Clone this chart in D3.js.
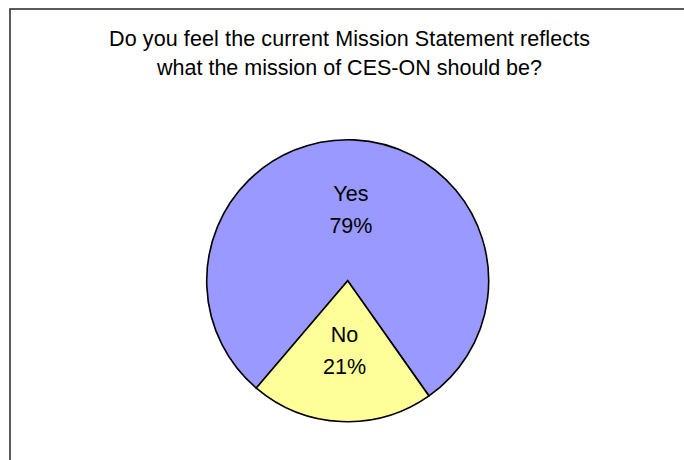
<!DOCTYPE html>
<html>
<head>
<meta charset="utf-8">
<script src="https://d3js.org/d3.v7.min.js"></script>
<style>
  body { margin: 0; background: #fff; }
  svg { display: block; }
  text { font-family: "Liberation Sans", Arial, sans-serif; fill: #000; }
</style>
</head>
<body>
<div id="chart"></div>
<script>
// chart data
const categories = ["Yes", "No"];
const percents = [79, 21];
const colours = ["#9999FF", "#FFFF99"];
const titleLines = [
    "Do you feel the current Mission Statement reflects",
    "what the mission of CES-ON should be?"
];
// measured widths of the two title lines in the reference
const titleWidths = [481, 385];

var width = 684, height = 460;

var svg = d3.select("#chart")
    .append("svg")
    .attr("width", width)
    .attr("height", height);

// outer chart frame (runs off the right and bottom of the picture)
svg.append("rect")
    .attr("x", 10)
    .attr("y", 9)
    .attr("width", 679)
    .attr("height", 470)
    .attr("fill", "#fff")
    .attr("stroke", "#333")
    .attr("stroke-width", 1.6);

var cx = 349.5;

svg.append("g")
    .selectAll("text")
    .data(titleLines)
    .enter()
    .append("text")
    .attr("x", cx)
    .attr("y", function(d, i) { return 46 + i * 28.5; })
    .attr("text-anchor", "middle")
    .attr("textLength", function(d, i) { return titleWidths[i]; })
    .attr("lengthAdjust", "spacing")
    .style("font-size", "21.5px")
    .text(function(d) { return d; });

var radius = 141;
var pieData = categories.map(function(c, i) {
    return { name: c, value: percents[i], colour: colours[i] };
});

// Excel first-slice angle: Yes starts at about 220 deg clockwise from 12 o'clock
var startAngle = 220.4 * Math.PI / 180;
var pie = d3.pie()
    .sort(null)
    .value(function(d) { return d.value; })
    .startAngle(startAngle)
    .endAngle(startAngle + 2 * Math.PI);

var arc = d3.arc()
    .innerRadius(0)
    .outerRadius(radius);

var pieG = svg.append("g")
    .attr("transform", "translate(347.7,280.7)");

var slices = pie(pieData);

pieG.selectAll("path")
    .data(slices)
    .enter()
    .append("path")
    .attr("d", arc)
    .attr("fill", function(d) { return d.data.colour; })
    .attr("stroke", "#000")
    .attr("stroke-width", 1.6)
    .attr("stroke-linejoin", "miter");

var labels = pieG.selectAll("g.label")
    .data(slices)
    .enter()
    .append("g")
    .attr("class", "label")
    .attr("transform", function(d) {
        var c = arc.centroid(d);
        return "translate(" + c[0] + "," + c[1] + ")";
    });

labels.append("text")
    .attr("text-anchor", "middle")
    .attr("y", -9)
    .style("font-size", "21.5px")
    .text(function(d) { return d.data.name; });

labels.append("text")
    .attr("text-anchor", "middle")
    .attr("y", 23)
    .style("font-size", "21.5px")
    .text(function(d) { return d.data.value + "%"; });
</script>
</body>
</html>
